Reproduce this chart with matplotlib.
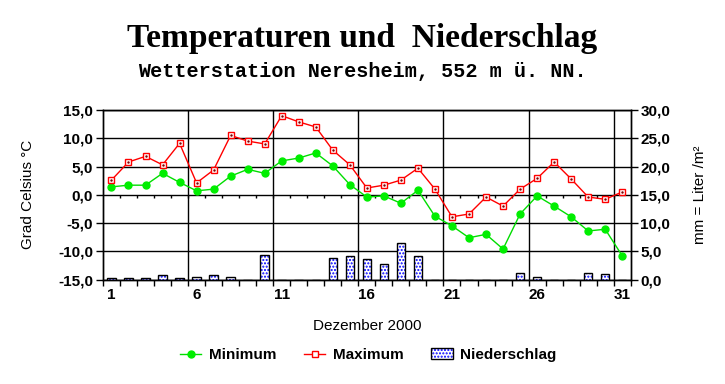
import matplotlib
matplotlib.use("Agg")
import matplotlib.pyplot as plt
import numpy as np
from matplotlib.legend_handler import HandlerTuple
from matplotlib.patches import Patch

# Tageswerte Dezember 2000
tage = np.arange(1, 32)
t_max = [2.6, 5.8, 6.8, 5.3, 9.1, 2.1, 4.4, 10.5, 9.5, 9.0,
         14.0, 12.9, 12.0, 7.9, 5.3, 1.2, 1.7, 2.6, 4.7, 1.0,
         -3.9, -3.4, -0.4, -2.0, 1.0, 2.9, 5.8, 2.8, -0.4, -0.8, 0.5]
t_min = [1.4, 1.7, 1.7, 3.8, 2.2, 0.7, 1.0, 3.3, 4.5, 3.8,
         6.0, 6.5, 7.4, 5.1, 1.8, -0.4, -0.2, -1.5, 0.8, -3.8,
         -5.5, -7.6, -7.0, -9.6, -3.4, -0.2, -2.0, -3.9, -6.4, -6.1, -10.8]
niederschlag = [0.2, 0.2, 0.2, 0.8, 0.2, 0.4, 0.8, 0.4, 0.0, 4.3,
                0.0, 0.0, 0.0, 3.9, 4.2, 3.7, 2.7, 6.5, 4.2, 0.0,
                0.0, 0.0, 0.0, 0.0, 1.2, 0.5, 0.0, 0.0, 1.2, 0.9, 0.0]

x_labels = [1, 6, 11, 16, 21, 26, 31]
temp_ticks = [-15, -10, -5, 0, 5, 10, 15]
mm_ticks = [0, 5, 10, 15, 20, 25, 30]

plt.rcParams["font.family"] = "Liberation Sans"
plt.rcParams["hatch.color"] = "#0000ff"
plt.rcParams["hatch.linewidth"] = 1.0

fig = plt.figure(figsize=(7.25, 3.84), dpi=100)
ax = fig.add_axes([0.142, 0.272, 0.728, 0.4415])
ax2 = ax.twinx()

def komma(v):
    return ("%.1f" % v).replace(".", ",")

# Gitter
for y in temp_ticks:
    ax.axhline(y, color="black", lw=1.0, zorder=1)
for x in [5.5, 10.5, 15.5, 20.5, 25.5, 30.5]:
    ax.axvline(x, color="black", lw=1.0, zorder=1)
# kleine Striche an der Nulllinie
ax.vlines(np.arange(1.5, 31, 1), -0.6, 0, color="black", lw=1.0, zorder=1)

l_min, = ax.plot(tage, t_min, color="#00dd00", lw=1.0, marker="o", ms=5,
                 mfc="#00ee00", mec="#00ee00", zorder=3)
l_max, = ax.plot(tage, t_max, color="#ff0000", lw=1.0, marker="s", ms=5,
                 mfc="white", mec="#ff0000", mew=1.0, zorder=3)
ax.plot(tage, t_max, ls="none", marker=".", ms=1.5, color="#800000", zorder=4)

ax.set_xlim(0.5, 31.5)
ax.set_ylim(-15, 15)
ax.set_yticks(temp_ticks)
ax.set_yticklabels([komma(v) for v in temp_ticks], fontweight="bold")
ax.set_xticks(x_labels)
ax.set_xticklabels([str(v) for v in x_labels], fontweight="bold")
ax.set_xticks(np.arange(0.5, 31.6, 1), minor=True)
ax.tick_params(axis="x", which="major", length=0, pad=6, labelsize=11)
ax.tick_params(axis="x", which="minor", length=4, direction="out", width=1)
ax.tick_params(axis="y", length=5, direction="out", width=1, labelsize=11, pad=2)

# Niederschlag
ax2.bar(tage, niederschlag, width=0.5, color="white", hatch=".....",
        linewidth=0, zorder=2)
ax2.bar(tage, niederschlag, width=0.5, fill=False, edgecolor="black",
        linewidth=1.0, zorder=3)
ax2.set_ylim(0, 30)
ax2.set_yticks(mm_ticks)
ax2.set_yticklabels([komma(v) for v in mm_ticks], fontweight="bold")
ax2.tick_params(axis="y", length=5, direction="out", width=1, labelsize=11, pad=2)

for a in (ax, ax2):
    for s in a.spines.values():
        s.set_linewidth(1.0)
        s.set_color("black")

ax.set_ylabel("Grad Celsius °C", fontsize=11)
ax.yaxis.set_label_coords(-0.129, 0.5)
ax2.set_ylabel("mm = Liter /m²", fontsize=11)
ax2.yaxis.set_label_coords(1.118, 0.5)
ax.set_xlabel("Dezember 2000", fontsize=11, labelpad=12)

fig.text(0.5, 0.900, "Temperaturen und  Niederschlag", ha="center", va="center",
         family="Liberation Serif", weight="bold", fontsize=24)
fig.text(0.5, 0.815, "Wetterstation Neresheim, 552 m ü. NN.", ha="center",
         va="center", family="Liberation Mono", weight="bold", fontsize=14.5)

p_hatch = Patch(facecolor="white", hatch=".....", linewidth=0)
p_rand = Patch(fill=False, edgecolor="black", linewidth=1.0)
fig.legend([l_min, l_max, (p_hatch, p_rand)],
           ["Minimum", "Maximum", "Niederschlag"],
           handler_map={tuple: HandlerTuple(ndivide=1, pad=0)},
           loc="center", bbox_to_anchor=(0.508, 0.0755), ncol=3, frameon=False,
           prop={"size": 11, "weight": "bold"}, columnspacing=1.8,
           handlelength=1.4, handletextpad=0.5)

fig.savefig("out.png", dpi=100)
